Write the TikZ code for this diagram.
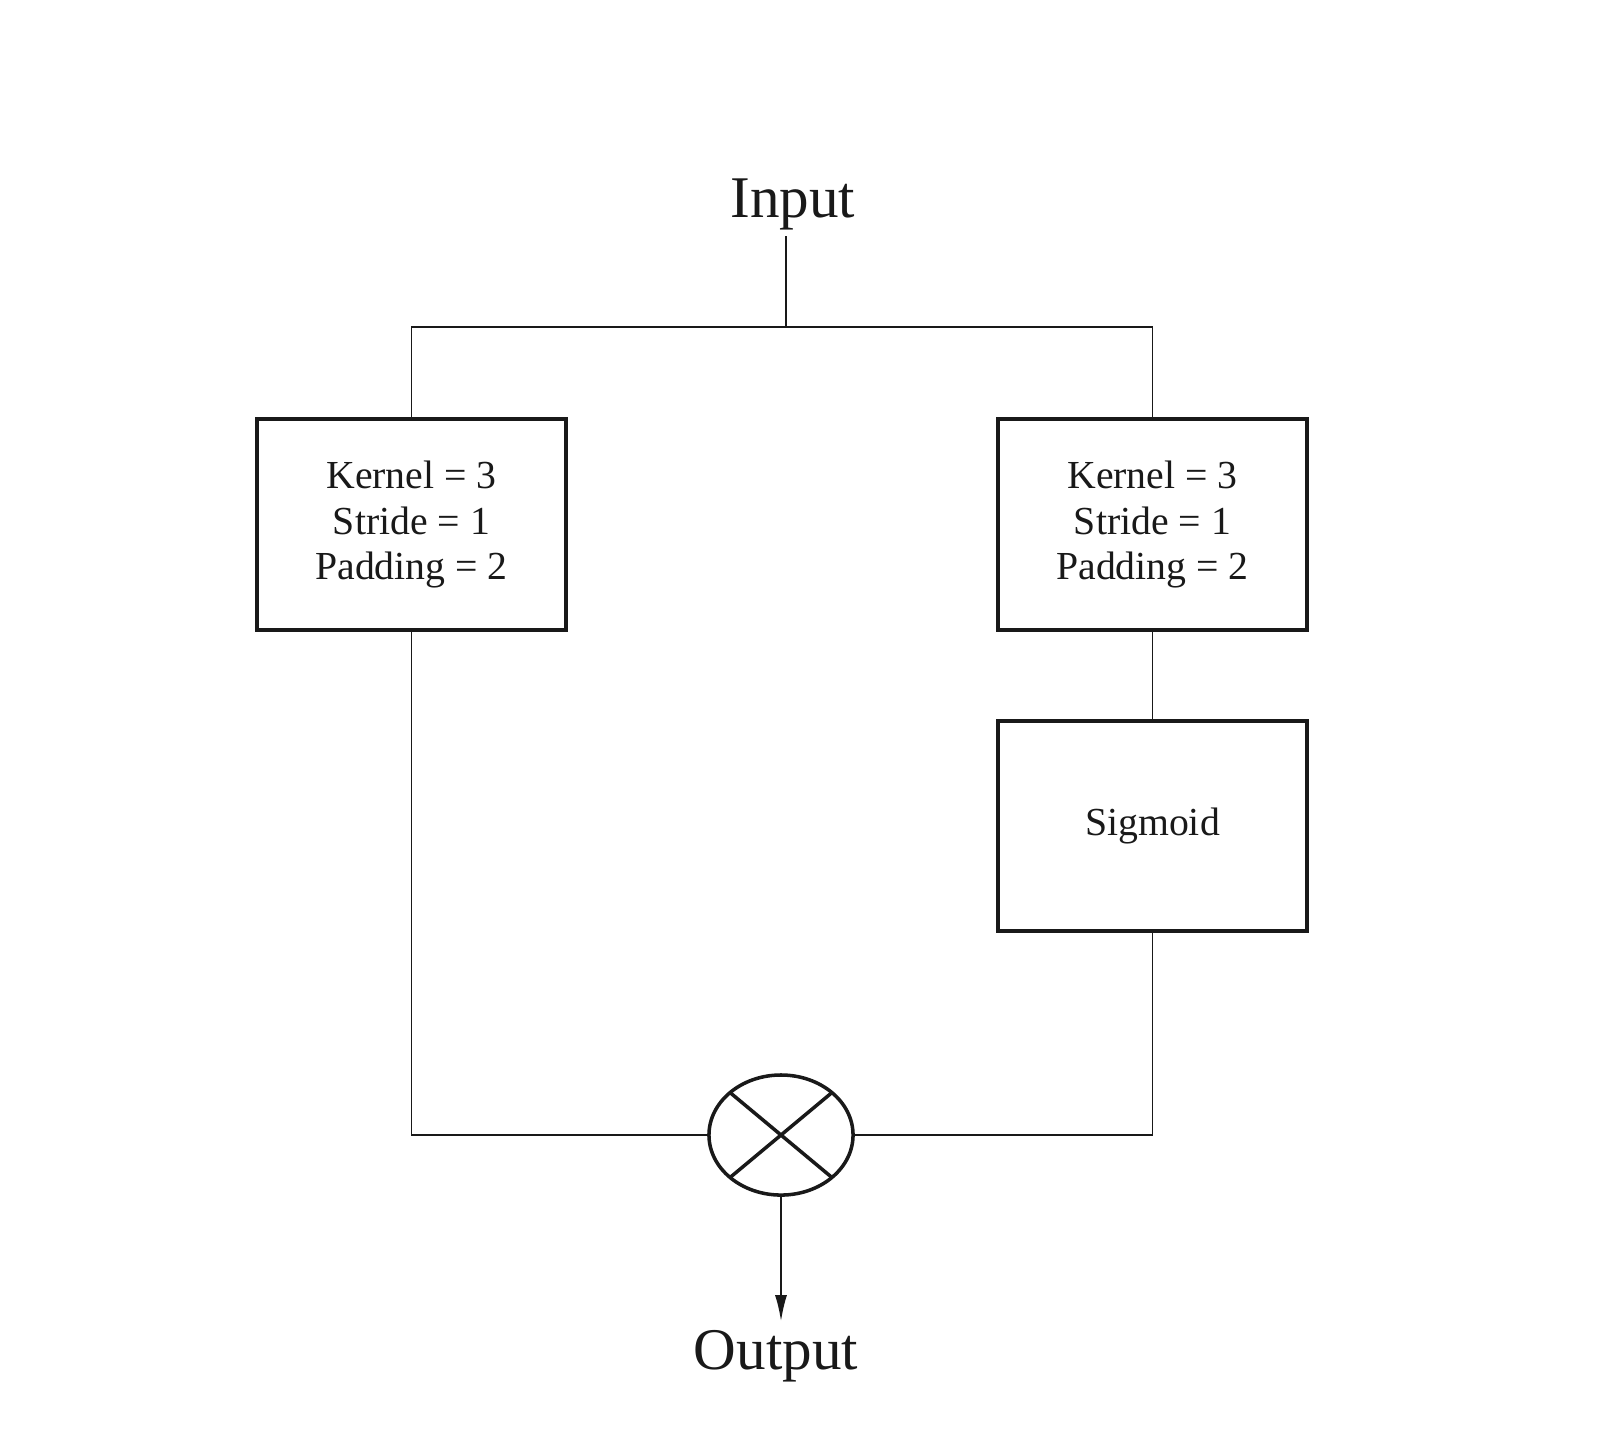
\documentclass[tikz,border=0pt]{standalone}
\usepackage{fontspec}
\setmainfont{Liberation Serif}
\usetikzlibrary{shapes.geometric,arrows.meta}
\begin{document}
\begin{tikzpicture}[x=0.01cm,y=-0.01cm,
  conn/.style={line width=0.5pt,draw=black!90},
  blockbox/.style={draw=black!90,line width=1pt,minimum width=3.09cm,minimum height=2.11cm,
    align=center,font=\fontsize{11.3}{12.9}\selectfont,text=black!90},
  title/.style={font=\fontsize{16.8}{20}\selectfont,inner sep=0pt,text=black!90},
  mulnode/.style={ellipse,draw=black!90,line width=1pt,minimum width=1.44cm,minimum height=1.2cm,inner sep=0pt,outer sep=0pt}]
\useasboundingbox (0,0) rectangle (1600,1432);
\node[title,anchor=base] (in) at (793,217) {Input};
\node[title,anchor=base] (out) at (776,1369) {Output};
\node[blockbox] (k1) at (411.5,524.5) {Kernel = 3\\Stride = 1\\Padding = 2};
\node[blockbox] (k2) at (1152.5,524.5) {Kernel = 3\\Stride = 1\\Padding = 2};
\node[blockbox,minimum height=2.10cm] (sg) at (1152.5,826) {Sigmoid};
\node[mulnode] (mul) at (781,1135) {};
\coordinate (split) at (786,327);
\draw[conn] (split) -- ([yshift=-0.06cm]split |- in.south);
\draw[conn] (k1.north) |- (split) -| (k2.north);
\draw[conn] (k2) -- (sg);
\draw[conn] (k1.south) |- (mul.west);
\draw[conn] (sg.south) |- (mul.east);
\draw[line width=1pt,draw=black!90] (mul.north west) -- (mul.south east);
\draw[line width=1pt,draw=black!90] (mul.north east) -- (mul.south west);
\draw[conn,-{Latex[length=0.26cm,width=0.12cm]},shorten >=0.08cm] (mul.south) -- (mul.south |- out.north);
\end{tikzpicture}
\end{document}
